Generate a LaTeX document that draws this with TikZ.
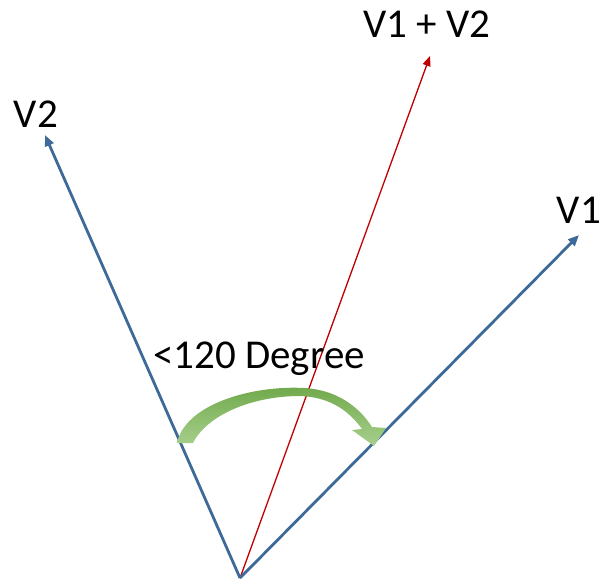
\documentclass[tikz,border=0pt]{standalone}
\usepackage{fontspec}
\setmainfont{Carlito}
\usetikzlibrary{arrows.meta}
\definecolor{vblue}{HTML}{3D6A98}
\definecolor{vred}{HTML}{C00000}
\definecolor{agreen}{HTML}{6FA84A}
\definecolor{agreenlight}{HTML}{A8D08D}
\tikzset{
  vec/.style={draw=vblue, line width=2.8pt, -{Triangle[length=11pt,width=9pt]}},
  sumvec/.style={draw=vred, line width=1.3pt, -{Triangle[length=10pt,width=8pt]}},
  lbl/.style={font=\fontsize{41}{48}\selectfont, text=black, anchor=base, inner sep=0pt}
}
\begin{document}
\begin{tikzpicture}[x=1pt,y=-1pt]
\useasboundingbox (0,0) rectangle (604,579);
\coordinate (O) at (240,578);
\coordinate (v2) at (45,135);
\coordinate (v1) at (579,235);
\coordinate (s) at (430,56);
\draw[sumvec] (O) -- (s);
\draw[vec] (O) -- (v2);
\draw[vec] (O) -- (v1);
% curved arrow
\path[left color=agreen, right color=agreenlight, shading angle=0]
  (177,443) .. controls (185,405) and (250,385) .. (305,388)
  .. controls (335,390) and (358,405) .. (372,427)
  -- (386,428) -- (374,446) -- (352,430) -- (362,429)
  .. controls (346,407) and (326,397) .. (300,396)
  .. controls (252,396) and (207,415) .. (193,443) -- cycle;
\node[lbl] (t2) at (36,127) {V2};
\node[lbl] (t1) at (579,223) {V1};
\node[lbl] (ts) at (427,37) {V1 + V2};
\node[lbl] (td) at (259,368) {<120 Degree};
\end{tikzpicture}
\end{document}
